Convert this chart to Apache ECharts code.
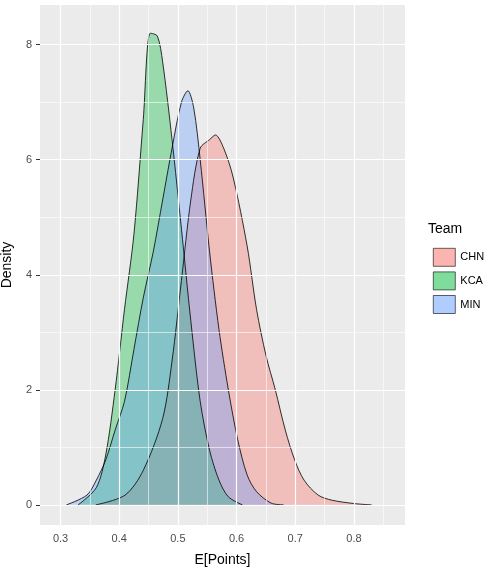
<!DOCTYPE html>
<html>
<head>
<meta charset="utf-8">
<script src="https://cdn.jsdelivr.net/npm/echarts@6/dist/echarts.min.js"></script>
<style>html,body{margin:0;background:#fff}#chart{width:500px;height:573px}</style>
</head>
<body>
<div id="chart"></div>
<script>
// density curves: [E[Points], density]
var chn = [[0.36,0],[0.41,0.17],[0.441,0.6],[0.474,1.5],[0.49,2.5],[0.506,3.9],[0.522,5.3],[0.538,6.2],[0.554,6.35],[0.564,6.43],[0.578,6.2],[0.594,5.7],[0.618,4.5],[0.634,3.4],[0.65,2.6],[0.666,2.0],[0.683,1.3],[0.699,0.78],[0.715,0.43],[0.739,0.17],[0.763,0.08],[0.803,0.02],[0.83,0]];
var kca = [[0.33,0],[0.361,0.3],[0.377,0.87],[0.393,2.0],[0.409,3.4],[0.425,4.7],[0.441,6.7],[0.453,8.2],[0.465,8.15],[0.474,7.7],[0.49,6.35],[0.506,4.8],[0.522,3.2],[0.538,1.8],[0.554,0.95],[0.57,0.43],[0.586,0.14],[0.61,0]];
var min = [[0.31,0],[0.345,0.17],[0.361,0.43],[0.377,0.78],[0.393,1.3],[0.409,1.8],[0.425,2.7],[0.441,3.6],[0.458,4.4],[0.474,5.3],[0.49,6.2],[0.506,7.0],[0.517,7.2],[0.527,6.9],[0.538,6.0],[0.554,4.4],[0.57,3.05],[0.586,2.0],[0.602,1.13],[0.618,0.52],[0.634,0.23],[0.659,0.03],[0.68,0]];
var xTicks = [0.3, 0.4, 0.5, 0.6, 0.7, 0.8];
var xMinor = [0.35, 0.45, 0.55, 0.65, 0.75, 0.85];
var yTicks = [0, 2, 4, 6, 8];
var yMinor = [1, 3, 5, 7];

var chart = echarts.init(document.getElementById('chart'));
var gridLines = [];
xMinor.forEach(function (v) { gridLines.push({ xAxis: v, lineStyle: { width: 0.6 } }); });
yMinor.forEach(function (v) { gridLines.push({ yAxis: v, lineStyle: { width: 0.6 } }); });
xTicks.forEach(function (v) { gridLines.push({ xAxis: v, lineStyle: { width: 1.2 } }); });
yTicks.forEach(function (v) { gridLines.push({ yAxis: v, lineStyle: { width: 1.2 } }); });

function dens(name, data, color) {
    return {
        name: name, type: 'line', data: data, symbol: 'none', smooth: 0.3,
        lineStyle: { color: '#000', width: 0.8 },
        itemStyle: { color: color, borderColor: '#000', borderWidth: 0.6 },
        areaStyle: { color: color }
    };
}

chart.setOption({
    animation: false,
    textStyle: { fontFamily: 'Liberation Sans, Arial' },
    grid: { left: 40, top: 5, width: 365, height: 520, outerBoundsMode: 'none', containLabel: false,
            show: true, backgroundColor: '#EBEBEB', borderWidth: 0 },
    xAxis: {
        type: 'value', min: 0.265, max: 0.887,
        name: 'E[Points]', nameLocation: 'middle', nameGap: 28,
        nameTextStyle: { fontSize: 14, color: '#000' },
        axisLine: { show: false }, splitLine: { show: false },
        axisTick: { customValues: xTicks, length: 4, lineStyle: { color: '#333' } },
        axisLabel: { customValues: xTicks, color: '#4D4D4D', fontSize: 11, margin: 8 }
    },
    yAxis: {
        type: 'value', min: -0.35, max: 8.69,
        name: 'Density', nameLocation: 'middle', nameGap: 26,
        nameTextStyle: { fontSize: 14, color: '#000' },
        axisLine: { show: false }, splitLine: { show: false },
        axisTick: { customValues: yTicks, length: 4, lineStyle: { color: '#333' } },
        axisLabel: { customValues: yTicks, color: '#4D4D4D', fontSize: 11, margin: 8 }
    },
    legend: {
        orient: 'vertical', left: 428, top: 243, itemGap: 5,
        itemWidth: 22, itemHeight: 18, icon: 'rect',
        itemStyle: { borderWidth: 0.6 },
        textStyle: { fontSize: 11, color: '#000' },
        data: ['CHN', 'KCA', 'MIN']
    },
    graphic: [{ type: 'text', left: 428, top: 222, style: { text: 'Team', fontSize: 14, fill: '#000', fontFamily: 'Liberation Sans, Arial' } }],
    series: [
        { type: 'line', data: [], silent: true,
          markLine: { silent: true, symbol: 'none', label: { show: false }, lineStyle: { color: '#fff', type: 'solid' }, data: gridLines } },
        dens('CHN', chn, 'rgba(248,118,109,0.55)'),
        dens('KCA', kca, 'rgba(0,186,56,0.5)'),
        dens('MIN', min, 'rgba(97,156,255,0.5)')
    ]
});
</script>
</body>
</html>
